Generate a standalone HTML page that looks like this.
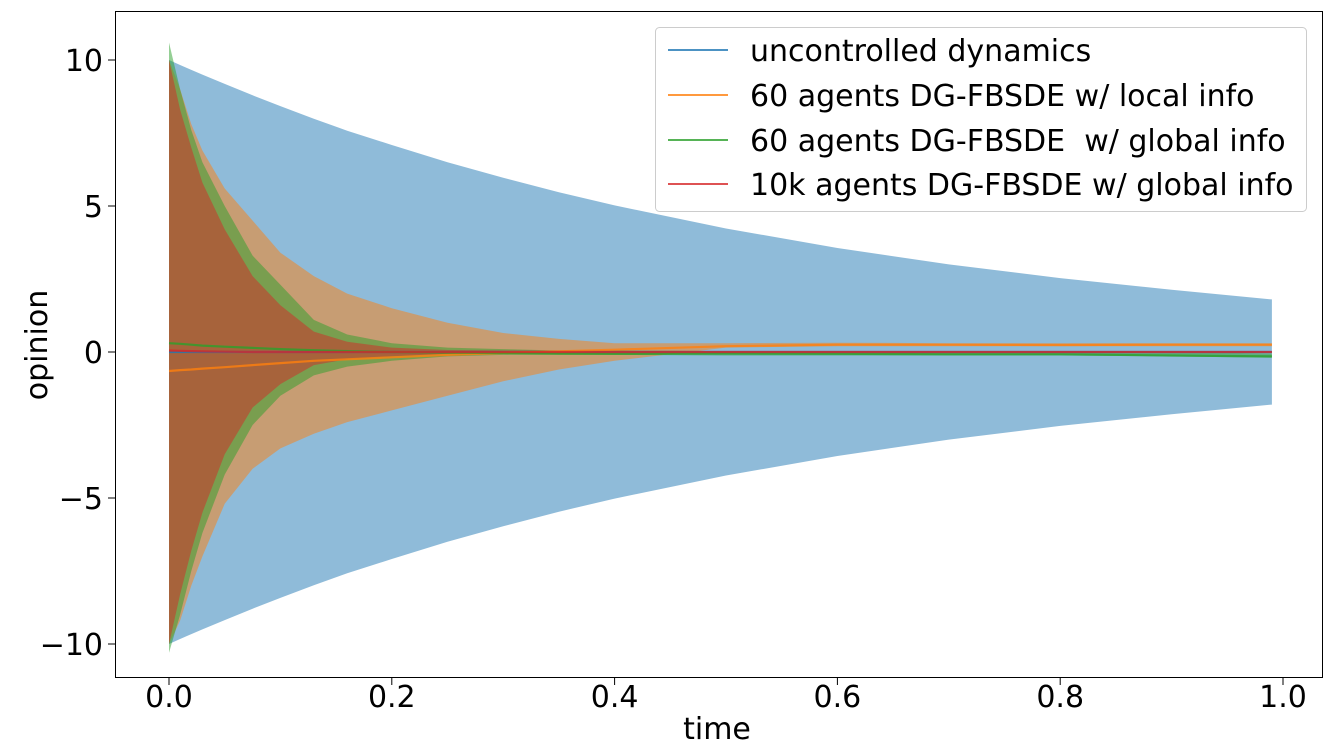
<!DOCTYPE html>
<html><head><meta charset="utf-8"><style>
body{margin:0;background:#fff;}
svg{display:block;font-family:"DejaVu Sans","Liberation Sans",sans-serif;}
</style></head><body>
<svg id="chart" width="1332" height="756" viewBox="0 0 1332 756" xmlns="http://www.w3.org/2000/svg">
<rect x="0" y="0" width="1332" height="756" fill="#fff"/>
<g id="bands"></g>
<g id="lines"></g>
<rect x="115.5" y="11.5" width="1207" height="666" fill="none" stroke="#000" stroke-width="1"/>
<g id="xticks"></g>
<g id="yticks"></g>
<text x="717" y="739" font-size="30" text-anchor="middle">time</text>
<text x="0" y="0" font-size="30" text-anchor="middle" transform="translate(47,345) rotate(-90)">opinion</text>
<g>
<rect x="655.5" y="27.5" width="651" height="184" rx="4" fill="#fff" fill-opacity="0.8" stroke="#ccc"/>
<line x1="668" y1="50" x2="728" y2="50" stroke="#1f77b4" stroke-opacity="0.8" stroke-width="2"/>
<text x="750" y="61" font-size="30">uncontrolled dynamics</text>
<line x1="668" y1="95" x2="728" y2="95" stroke="#ff7f0e" stroke-opacity="0.8" stroke-width="2"/>
<text x="750" y="106" font-size="30">60 agents DG-FBSDE w/ local info</text>
<line x1="668" y1="140" x2="728" y2="140" stroke="#2ca02c" stroke-opacity="0.8" stroke-width="2"/>
<text x="750" y="151" font-size="30" xml:space="preserve">60 agents DG-FBSDE  w/ global info</text>
<line x1="668" y1="184" x2="728" y2="184" stroke="#d62728" stroke-opacity="0.8" stroke-width="2"/>
<text x="750" y="195" font-size="30">10k agents DG-FBSDE w/ global info</text>
</g>
</svg>
<script>
const times=[0,.01,.02,.03,.05,.075,.1,.13,.16,.2,.25,.3,.35,.4,.5,.6,.7,.8,.9,.99];
const blueUpper=[10,9.83,9.66,9.5,9.18,8.79,8.42,7.99,7.58,7.09,6.5,5.97,5.47,5.02,4.23,3.56,3.0,2.53,2.13,1.8];
const blueLower=[-10,-9.83,-9.66,-9.5,-9.18,-8.79,-8.42,-7.99,-7.58,-7.09,-6.5,-5.97,-5.47,-5.02,-4.23,-3.56,-3.0,-2.53,-2.13,-1.8];
const blueMean=[0,0,0,0,0,0,0,0,0,0,0,0,0,0,0,0,0,0,0,0];
const orangeUpper=[10,9.0,7.8,6.9,5.6,4.5,3.4,2.6,2.0,1.5,1.0,0.65,0.45,0.3,0.3,0.32,0.3,0.3,0.3,0.3];
const orangeLower=[-10,-9.2,-8.0,-7.0,-5.2,-4.0,-3.3,-2.8,-2.4,-2.0,-1.5,-1.0,-0.6,-0.3,0.15,0.2,0.2,0.2,0.2,0.2];
const orangeMean=[-0.65,-0.62,-0.6,-0.57,-0.52,-0.45,-0.38,-0.3,-0.25,-0.18,-0.1,-0.03,0.02,0.08,0.2,0.25,0.25,0.24,0.25,0.25];
const greenUpper=[10.6,9.0,7.6,6.5,5.0,3.3,2.3,1.1,0.6,0.3,0.15,0.1,0.05,0.05,0.03,0.03,0.02,0.02,0.0,-0.05];
const greenLower=[-10.3,-9.0,-7.5,-6.2,-4.2,-2.5,-1.5,-0.8,-0.5,-0.3,-0.15,-0.1,-0.1,-0.1,-0.12,-0.12,-0.12,-0.12,-0.15,-0.2];
const greenMean=[0.3,0.28,0.25,0.22,0.18,0.14,0.1,0.06,0.03,0.0,-0.02,-0.03,-0.05,-0.06,-0.05,-0.06,-0.08,-0.08,-0.12,-0.15];
const redUpper=[10,8.3,7.0,5.8,4.2,2.6,1.6,0.7,0.35,0.15,0.07,0.05,0.04,0.03,0.03,0.03,0.03,0.03,0.03,0.03];
const redLower=[-10,-8.3,-6.8,-5.5,-3.5,-1.9,-1.1,-0.45,-0.25,-0.15,-0.07,-0.05,-0.04,-0.03,-0.03,-0.03,-0.03,-0.03,-0.03,-0.03];
const redMean=[0.05,0.04,0.03,0.02,0.01,0,0,0,0,0,0,0,0,0,0,0,0,0,0,0];
const xTicks=[0,0.2,0.4,0.6,0.8,1.0];
const xTickLabels=["0.0","0.2","0.4","0.6","0.8","1.0"];
const yTicks=[10,5,0,-5,-10];
const yTickLabels=["10","5","0","\u22125","\u221210"];

const NS="http://www.w3.org/2000/svg";
const xs=t=>169+t*1114;
const ys=v=>352-v*29.2;
function mk(tag,parent,attrs){const e=document.createElementNS(NS,tag);for(const k in attrs)e.setAttribute(k,attrs[k]);parent.appendChild(e);return e;}
const bands=document.getElementById('bands'),lines=document.getElementById('lines');
function band(up,lo,color,name){
  let d="M"+times.map((t,i)=>xs(t).toFixed(1)+","+ys(up[i]).toFixed(1)).join("L");
  for(let i=times.length-1;i>=0;i--)d+="L"+xs(times[i]).toFixed(1)+","+ys(lo[i]).toFixed(1);
  const p=mk('path',bands,{d:d+"Z",fill:color,'fill-opacity':0.5});
  
  
}
function line(m,color,name){
  const p=mk('path',lines,{d:"M"+times.map((t,i)=>xs(t).toFixed(1)+","+ys(m[i]).toFixed(1)).join("L"),fill:"none",stroke:color,'stroke-opacity':0.8,'stroke-width':2.2});
  
  
}
band(blueUpper,blueLower,"#1f77b4","uncontrolled-band");
band(orangeUpper,orangeLower,"#ff7f0e","local-60-band");
band(greenUpper,greenLower,"#2ca02c","global-60-band");
band(redUpper,redLower,"#d62728","global-10k-band");
line(blueMean,"#1f77b4","uncontrolled-mean-line");
line(orangeMean,"#ff7f0e","local-60-mean-line");
line(greenMean,"#2ca02c","global-60-mean-line");
line(redMean,"#d62728","global-10k-mean-line");
const xg=document.getElementById('xticks'),yg=document.getElementById('yticks');
xTicks.forEach((t,i)=>{
  const l=mk('line',xg,{x1:xs(t),x2:xs(t),y1:678,y2:685,stroke:"#000"});
  
  
  const tx=mk('text',xg,{x:xs(t),y:707,'font-size':30,'text-anchor':'middle'});
  tx.textContent=xTickLabels[i];
  
  
});
yTicks.forEach((v,i)=>{
  const l=mk('line',yg,{x1:108,x2:115,y1:ys(v),y2:ys(v),stroke:"#000"});
  
  
  const tx=mk('text',yg,{x:103,y:ys(v)+11,'font-size':30,'text-anchor':'end'});
  tx.textContent=yTickLabels[i];
  
  
});
</script>
</body></html>
